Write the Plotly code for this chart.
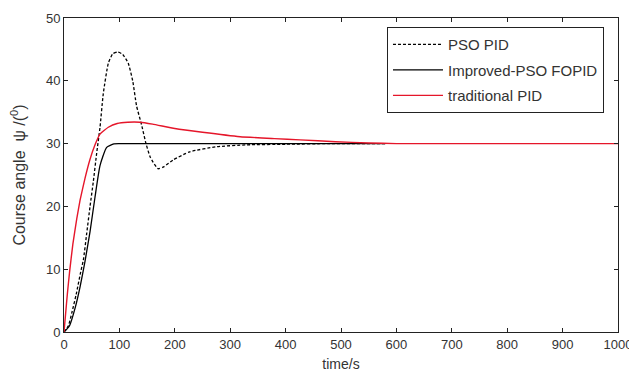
import plotly.graph_objects as go

# PSO PID (dashed)
t_pso = [0, 8, 14, 22, 30, 35, 41, 47, 53, 59, 65, 71, 80, 88, 97, 106, 116, 124, 131, 140,
         148, 155, 161, 170, 180, 197, 227, 276, 330, 400, 480, 580]
y_pso = [0, 1, 3, 6, 9.5, 11.5, 15.7, 20, 24, 28.5, 32.6, 38, 42.8, 44.3, 44.6, 44.2, 42.8, 40, 36, 33,
         30, 28, 27, 26, 26.3, 27.4, 28.7, 29.5, 29.8, 29.9, 30, 30]

# Improved-PSO FOPID (solid black)
t_fopid = [0, 10, 20, 29, 38, 47, 56, 65, 77, 90, 100, 200, 300, 400, 500, 580]
y_fopid = [0, 1, 3.8, 7.2, 11.3, 16, 21.5, 26.5, 29.4, 29.95, 30, 30, 30, 30, 30, 30]

# traditional PID (red)
t_trad = [0, 3, 6, 10, 16, 23, 29, 38, 47, 56, 65, 80, 96, 115, 137, 160, 200, 250, 318, 380,
          426, 490, 550, 600, 700, 800, 900, 1000]
y_trad = [0, 3, 6, 9.5, 14, 18, 21, 24.5, 27.5, 29.8, 31.5, 32.6, 33.2, 33.4, 33.4, 33.1, 32.4, 31.8, 31.1, 30.8,
          30.6, 30.3, 30.1, 30, 30, 30, 30, 30]

x_ticks = [0, 100, 200, 300, 400, 500, 600, 700, 800, 900, 1000]
y_ticks = [0, 10, 20, 30, 40, 50]

FONT = "Liberation Sans, Arial, sans-serif"

fig = go.Figure()
fig.add_trace(go.Scatter(x=t_pso, y=y_pso, mode="lines", name="PSO PID", legendgroup="a",
                         line=dict(color="black", width=1.3, dash="3px,2px", shape="spline", smoothing=0.5)))
fig.add_trace(go.Scatter(x=t_fopid, y=y_fopid, mode="lines", name="Improved-PSO FOPID", legendgroup="b",
                         line=dict(color="black", width=1.3, shape="spline", smoothing=0.5)))
fig.add_trace(go.Scatter(x=t_trad, y=y_trad, mode="lines", name="traditional PID", legendgroup="c",
                         line=dict(color="#e5162a", width=1.4, shape="spline", smoothing=0.4)))

axis_common = dict(showline=True, linecolor="#222", linewidth=1, mirror="ticks", ticks="inside",
                   ticklen=4, tickcolor="#222", showgrid=False, zeroline=False, automargin=False,
                   tickfont=dict(family=FONT, size=13, color="#333"))

fig.update_xaxes(range=[0, 1000], tickvals=x_ticks, ticktext=[str(v) for v in x_ticks],
                 title=dict(text="time/s", font=dict(family=FONT, size=14, color="#333"), standoff=8),
                 **axis_common)
fig.update_yaxes(range=[0, 50], tickvals=y_ticks, ticktext=[str(v) for v in y_ticks],
                 title=dict(text="Course angle  ψ /(<sup>0</sup>)", font=dict(family=FONT, size=16, color="#333"), standoff=20),
                 **axis_common)

# page body has an 8px margin, so the figure is sized/offset to compensate
fig.update_layout(
    width=629, height=375,
    margin=dict(l=56, r=19, t=10, b=51),
    plot_bgcolor="white", paper_bgcolor="white",
    legend=dict(x=0.583, y=0.971, xanchor="left", yanchor="top",
                bordercolor="#222", borderwidth=1, bgcolor="white",
                font=dict(family=FONT, size=15, color="#333"),
                itemwidth=50, tracegroupgap=3),
    showlegend=True,
)

fig.write_html("out.html")
